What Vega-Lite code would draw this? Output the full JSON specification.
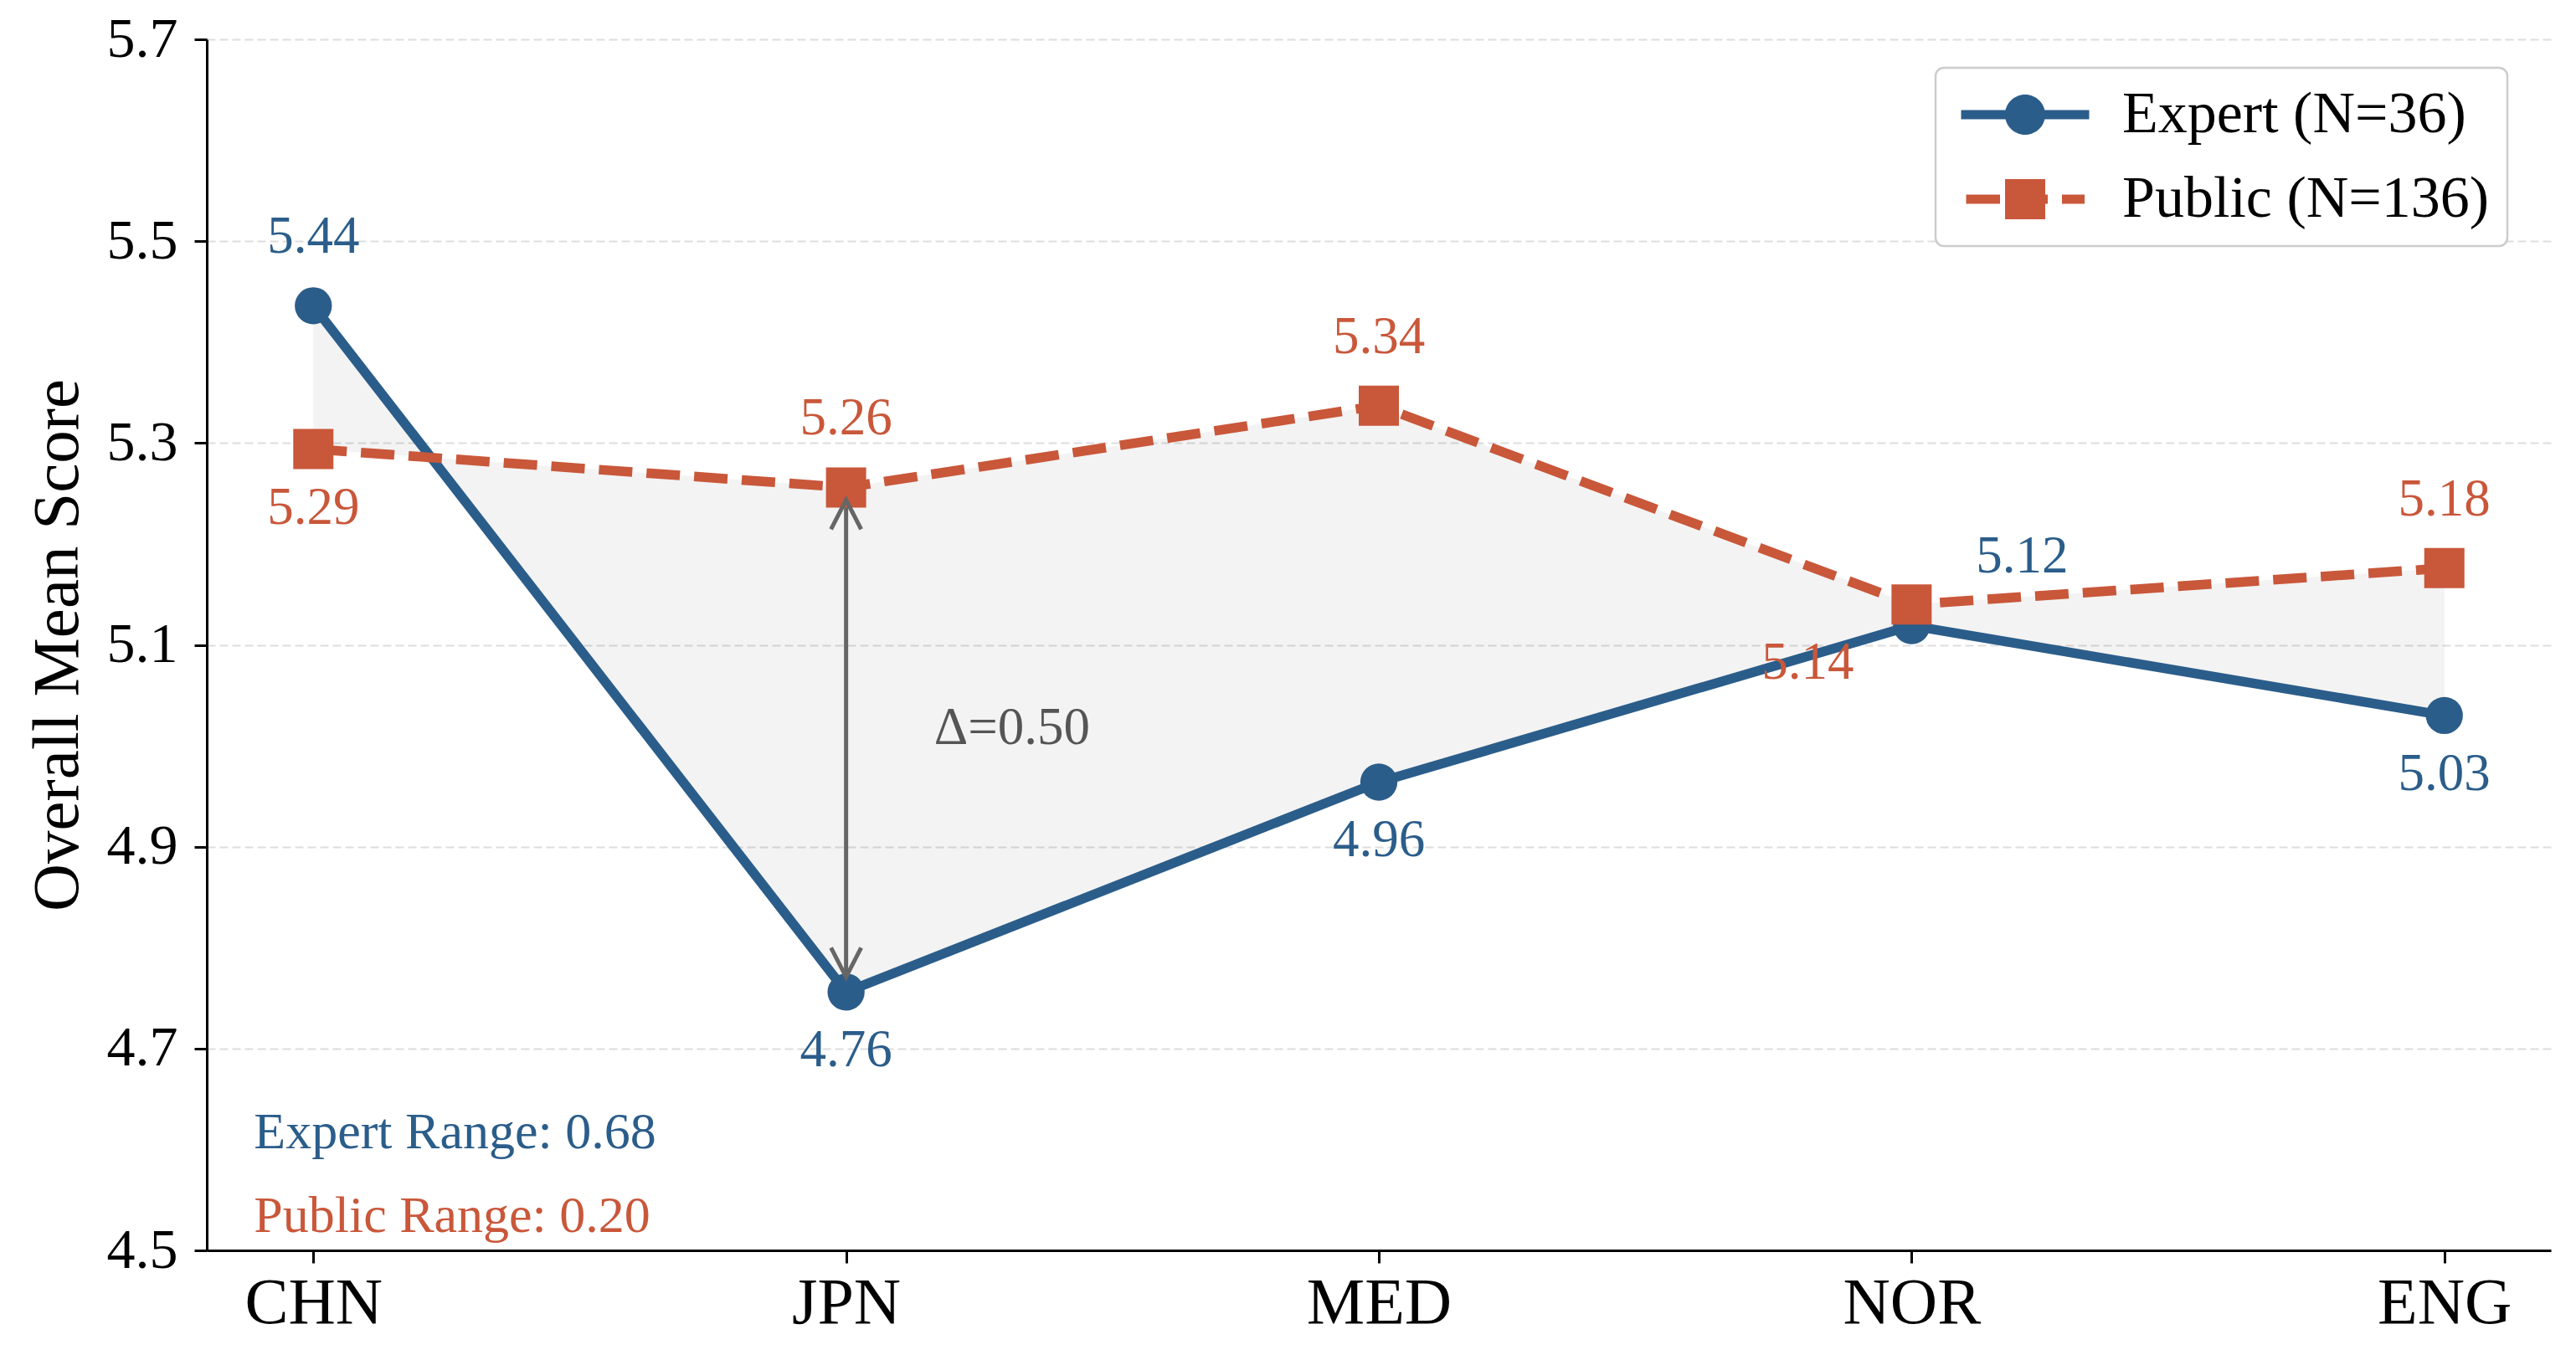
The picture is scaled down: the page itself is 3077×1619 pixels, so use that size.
{
  "$schema": "https://vega.github.io/schema/vega-lite/v6.json",
  "width": 2800,
  "height": 1447,
  "autosize": {"type": "none"},
  "padding": {"left": 247, "top": 47, "right": 30, "bottom": 125},
  "background": "white",
  "data": {
    "values": [
      {"country": "CHN", "group": "Expert", "score": 5.436},
      {"country": "JPN", "group": "Expert", "score": 4.756},
      {"country": "MED", "group": "Expert", "score": 4.964},
      {"country": "NOR", "group": "Expert", "score": 5.119},
      {"country": "ENG", "group": "Expert", "score": 5.03},
      {"country": "CHN", "group": "Public", "score": 5.294},
      {"country": "JPN", "group": "Public", "score": 5.256},
      {"country": "MED", "group": "Public", "score": 5.337},
      {"country": "NOR", "group": "Public", "score": 5.14},
      {"country": "ENG", "group": "Public", "score": 5.176}
    ]
  },
  "encoding": {
    "x": {
      "field": "country",
      "type": "nominal",
      "sort": ["CHN", "JPN", "MED", "NOR", "ENG"],
      "scale": {"type": "point", "domain": ["CHN", "JPN", "MED", "NOR", "ENG"], "padding": 0.2},
      "axis": {
        "title": null,
        "labelAngle": 0,
        "labelFontSize": 78,
        "labelColor": "black",
        "labelPadding": 9,
        "tickSize": 15,
        "tickWidth": 3,
        "tickColor": "black",
        "domainColor": "black",
        "domainWidth": 3,
        "grid": false
      }
    }
  },
  "layer": [
    {
      "transform": [{"pivot": "group", "value": "score", "groupby": ["country"]}],
      "mark": {"type": "area", "color": "#000000", "opacity": 0.045, "stroke": "#000000", "strokeOpacity": 0.06, "strokeWidth": 3},
      "encoding": {
        "y": {
          "field": "Expert",
          "type": "quantitative",
          "scale": {"domain": [4.5, 5.7], "nice": false, "zero": false},
          "axis": {
            "title": "Overall Mean Score",
            "values": [4.5, 4.7, 4.9, 5.1, 5.3, 5.5, 5.7],
            "format": ".1f",
            "labelFontSize": 68,
            "labelColor": "black",
            "labelPadding": 20,
            "titleFontSize": 79,
            "titleFontWeight": "normal",
            "titleColor": "black",
            "titlePadding": 18,
            "tickSize": 15,
            "tickWidth": 3,
            "tickColor": "black",
            "domainColor": "black",
            "domainWidth": 3,
            "grid": true,
            "gridDash": [10, 5],
            "gridColor": "#dddddd",
            "gridWidth": 2
          }
        },
        "y2": {"field": "Public"}
      }
    },
    {
      "transform": [{"filter": "datum.group == 'Expert'"}],
      "mark": {"type": "line", "color": "#2B5D8A", "strokeWidth": 11.5, "strokeJoin": "round", "strokeCap": "square"},
      "encoding": {"y": {"field": "score", "type": "quantitative"}}
    },
    {
      "transform": [{"filter": "datum.group == 'Public'"}],
      "mark": {"type": "line", "color": "#C9573A", "strokeWidth": 11.5, "strokeJoin": "round", "strokeDash": [40, 17]},
      "encoding": {"y": {"field": "score", "type": "quantitative"}}
    },
    {
      "transform": [
        {"pivot": "group", "value": "score", "groupby": ["country"]},
        {"filter": "datum.country == 'JPN'"}
      ],
      "mark": {"type": "rule", "color": "#666666", "strokeWidth": 5},
      "encoding": {
        "y": {"field": "Public", "type": "quantitative"},
        "y2": {"field": "Expert"}
      }
    },
    {
      "transform": [{"filter": "datum.group == 'Expert'"}],
      "mark": {"type": "point", "shape": "circle", "filled": true, "size": 1963, "color": "#2B5D8A", "opacity": 1},
      "encoding": {"y": {"field": "score", "type": "quantitative"}}
    },
    {
      "transform": [{"filter": "datum.group == 'Public'"}],
      "mark": {"type": "point", "shape": "square", "filled": true, "size": 2304, "color": "#C9573A", "opacity": 1},
      "encoding": {"y": {"field": "score", "type": "quantitative"}}
    },
    {
      "transform": [{"filter": "datum.country == 'JPN' && datum.group == 'Public'"}],
      "mark": {"type": "point", "shape": "M-0.45,1.25L0,0.375L0.45,1.25", "size": 6400, "filled": false, "color": "#666666", "strokeWidth": 5, "opacity": 1},
      "encoding": {"y": {"field": "score", "type": "quantitative"}}
    },
    {
      "transform": [{"filter": "datum.country == 'JPN' && datum.group == 'Expert'"}],
      "mark": {"type": "point", "shape": "M-0.45,-1.325L0,-0.45L0.45,-1.325", "size": 6400, "filled": false, "color": "#666666", "strokeWidth": 5, "opacity": 1},
      "encoding": {"y": {"field": "score", "type": "quantitative"}}
    },
    {
      "mark": {"type": "point", "filled": true, "opacity": 0},
      "encoding": {
        "y": {"field": "score", "type": "quantitative"},
        "color": {
          "field": "group",
          "type": "nominal",
          "scale": {"domain": ["Expert", "Public"], "range": ["#2B5D8A", "#C9573A"]},
          "legend": {
            "title": null,
            "orient": "none",
            "legendX": 2065,
            "legendY": 34,
            "labelExpr": "datum.label == 'Expert' ? 'Expert (N=36)' : 'Public (N=136)'",
            "symbolSize": 2500,
            "symbolOffset": 51,
            "labelOffset": 81,
            "labelFontSize": 70,
            "labelColor": "black",
            "labelLimit": 1000,
            "rowPadding": 31,
            "padding": 21,
            "fillColor": "white",
            "strokeColor": "#cccccc",
            "cornerRadius": 10,
            "symbolStrokeWidth": 0,
            "symbolOpacity": 1,
            "encode": {"symbols": {"update": {"opacity": {"value": 1}}}}
          }
        },
        "shape": {
          "field": "group",
          "type": "nominal",
          "scale": {
            "domain": ["Expert", "Public"],
            "range": [
              "M-3.06,-0.216H3.06V0.216H-3.06Z M0.96,0A0.96,0.96,0,1,1,-0.96,0A0.96,0.96,0,1,1,0.96,0Z",
              "M-2.82,-0.216H-1.2V0.216H-2.82Z M-0.96,-0.96H0.96V0.96H-0.96Z M0.96,-0.216H1.08V0.216H0.96Z M1.76,-0.216H2.84V0.216H1.76Z"
            ]
          },
          "legend": {
            "title": null,
            "orient": "none",
            "legendX": 2065,
            "legendY": 34,
            "labelExpr": "datum.label == 'Expert' ? 'Expert (N=36)' : 'Public (N=136)'",
            "symbolSize": 2500,
            "symbolOffset": 51,
            "labelOffset": 81,
            "labelFontSize": 70,
            "labelColor": "black",
            "labelLimit": 1000,
            "rowPadding": 31,
            "padding": 21,
            "fillColor": "white",
            "strokeColor": "#cccccc",
            "cornerRadius": 10,
            "symbolStrokeWidth": 0,
            "symbolOpacity": 1,
            "encode": {"symbols": {"update": {"opacity": {"value": 1}}}}
          }
        }
      }
    },
    {
      "transform": [{"filter": "(datum.group == 'Expert' && datum.country == 'CHN') || (datum.group == 'Public' && indexof(['JPN', 'MED', 'ENG'], datum.country) >= 0)"}],
      "mark": {"type": "text", "fontSize": 63, "baseline": "middle", "dy": -82},
      "encoding": {
        "y": {"field": "score", "type": "quantitative"},
        "text": {"field": "score", "type": "quantitative", "format": ".2f"},
        "color": {"field": "group", "type": "nominal", "legend": null}
      }
    },
    {
      "transform": [{"filter": "(datum.group == 'Public' && datum.country == 'CHN') || (datum.group == 'Expert' && indexof(['JPN', 'MED', 'ENG'], datum.country) >= 0)"}],
      "mark": {"type": "text", "fontSize": 63, "baseline": "middle", "dy": 70},
      "encoding": {
        "y": {"field": "score", "type": "quantitative"},
        "text": {"field": "score", "type": "quantitative", "format": ".2f"},
        "color": {"field": "group", "type": "nominal", "legend": null}
      }
    },
    {
      "transform": [{"filter": "datum.group == 'Expert' && datum.country == 'NOR'"}],
      "mark": {"type": "text", "fontSize": 63, "baseline": "middle", "dx": 132, "dy": -83},
      "encoding": {
        "y": {"field": "score", "type": "quantitative"},
        "text": {"field": "score", "type": "quantitative", "format": ".2f"},
        "color": {"field": "group", "type": "nominal", "legend": null}
      }
    },
    {
      "transform": [{"filter": "datum.group == 'Public' && datum.country == 'NOR'"}],
      "mark": {"type": "text", "fontSize": 63, "baseline": "middle", "dx": -124, "dy": 70},
      "encoding": {
        "y": {"field": "score", "type": "quantitative"},
        "text": {"field": "score", "type": "quantitative", "format": ".2f"},
        "color": {"field": "group", "type": "nominal", "legend": null}
      }
    },
    {
      "transform": [
        {"pivot": "group", "value": "score", "groupby": ["country"]},
        {"filter": "datum.country == 'JPN'"},
        {"calculate": "(datum.Public + datum.Expert) / 2", "as": "mid"},
        {"calculate": "'Δ=' + format(datum.Public - datum.Expert, '.2f')", "as": "delta"}
      ],
      "mark": {"type": "text", "align": "left", "baseline": "middle", "dx": 105, "dy": -14, "fontSize": 63, "color": "#555555"},
      "encoding": {
        "y": {"field": "mid", "type": "quantitative"},
        "text": {"field": "delta"}
      }
    },
    {
      "transform": [
        {"joinaggregate": [{"op": "max", "field": "score", "as": "hi"}, {"op": "min", "field": "score", "as": "lo"}], "groupby": ["group"]},
        {"filter": "datum.group == 'Expert' && datum.country == 'CHN'"},
        {"calculate": "datum.group + ' Range: ' + format(datum.hi - datum.lo, '.2f')", "as": "label"}
      ],
      "mark": {"type": "text", "align": "left", "baseline": "middle", "dx": -71, "fontSize": 62, "color": "#2B5D8A"},
      "encoding": {
        "y": {"datum": 4.617, "type": "quantitative"},
        "text": {"field": "label"}
      }
    },
    {
      "transform": [
        {"joinaggregate": [{"op": "max", "field": "score", "as": "hi"}, {"op": "min", "field": "score", "as": "lo"}], "groupby": ["group"]},
        {"filter": "datum.group == 'Public' && datum.country == 'CHN'"},
        {"calculate": "datum.group + ' Range: ' + format(datum.hi - datum.lo, '.2f')", "as": "label"}
      ],
      "mark": {"type": "text", "align": "left", "baseline": "middle", "dx": -71, "fontSize": 62, "color": "#C9573A"},
      "encoding": {
        "y": {"datum": 4.534, "type": "quantitative"},
        "text": {"field": "label"}
      }
    }
  ],
  "config": {
    "view": {"stroke": null},
    "font": "Liberation Serif",
    "axis": {"labelFont": "Liberation Serif", "titleFont": "Liberation Serif"},
    "legend": {"labelFont": "Liberation Serif", "strokeWidth": 2.5},
    "text": {"font": "Liberation Serif"}
  }
}
